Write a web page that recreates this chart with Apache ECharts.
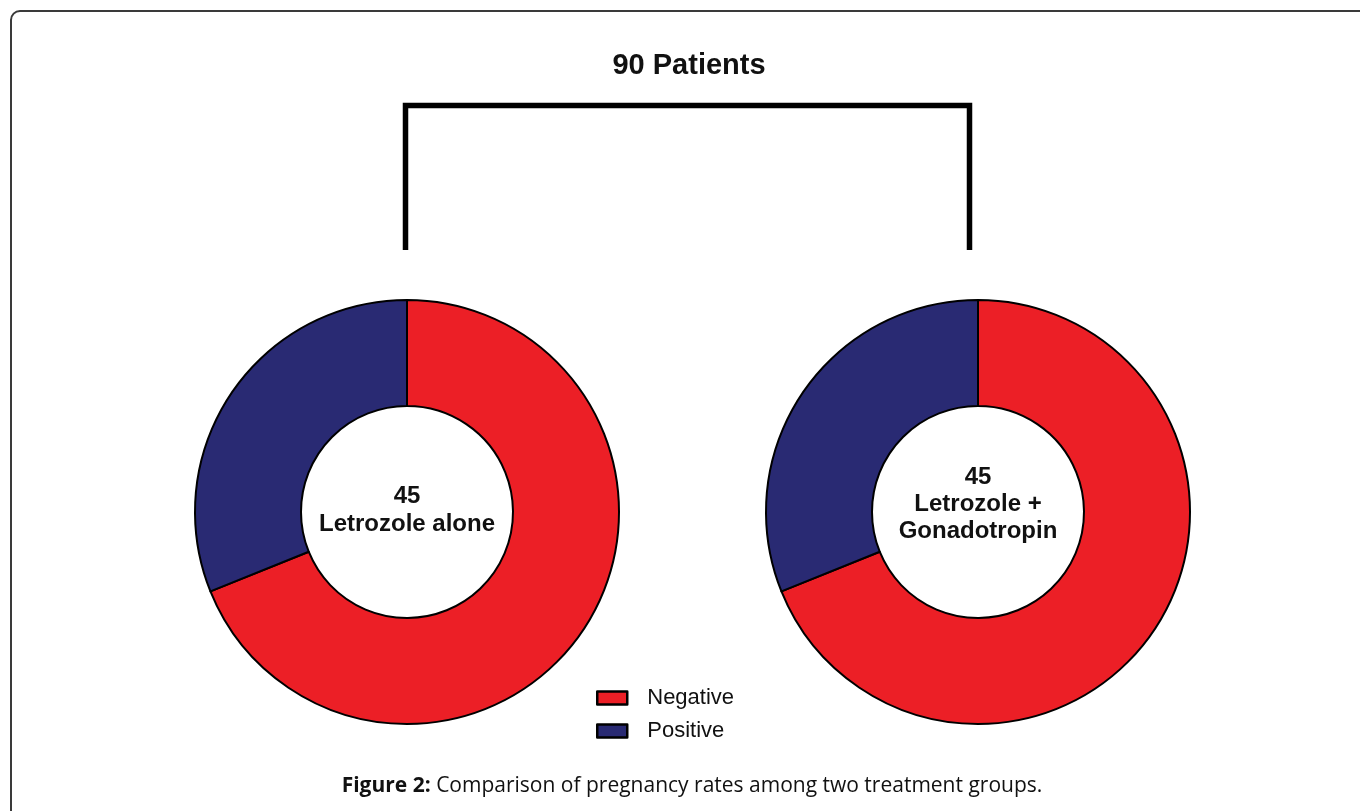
<!DOCTYPE html>
<html>
<head>
<meta charset="utf-8">
<script src="https://cdn.jsdelivr.net/npm/echarts@6/dist/echarts.min.js"></script>
<style>html,body{margin:0;padding:0;background:#fff;}#chart{width:1360px;height:811px;}</style>
</head>
<body>
<div id="chart"></div>
<script>
const categories = ['Negative', 'Positive'];
const letrozoleAlone = [31, 14];
const letrozoleGonadotropin = [31, 14];
const groupTitles = ['45\nLetrozole alone', '45\nLetrozole +\nGonadotropin'];
const totalTitle = '90 Patients';
const captionBold = 'Figure 2:';
const captionText = ' Comparison of pregnancy rates among two treatment groups.';

const colors = ['#EC1F26', '#292A73'];
const SANS = '"Liberation Sans", Arial, Helvetica, sans-serif';
const CAP = '"Open Sans", "Noto Sans", sans-serif';

function makeData(vals) {
  return categories.map((c, i) => ({ name: c, value: vals[i], itemStyle: { color: colors[i] } }));
}

const chart = echarts.init(document.getElementById('chart'));
chart.setOption({
  animation: false,
  backgroundColor: '#fff',
  title: [
    { text: totalTitle, left: 684, top: 46, textAlign: 'center',
      textStyle: { fontFamily: SANS, fontWeight: 'bold', fontSize: 29, color: '#111' } },
    { text: groupTitles[0], left: 402, top: 477, textAlign: 'center',
      textStyle: { fontFamily: SANS, fontWeight: 'bold', fontSize: 24, color: '#111', lineHeight: 28 } },
    { text: groupTitles[1], left: 973, top: 459, textAlign: 'center',
      textStyle: { fontFamily: SANS, fontWeight: 'bold', fontSize: 24, color: '#111', lineHeight: 27 } },
    { text: '{b|' + captionBold + '}{n|' + captionText + '}', left: 687, top: 771, textAlign: 'center',
      textStyle: { fontWeight: 'normal', rich: {
        b: { fontFamily: CAP, fontWeight: 'bold', fontSize: 21, color: '#111' },
        n: { fontFamily: CAP, fontWeight: 'normal', fontSize: 21, color: '#111' }
      } } }
  ],
  legend: {
    data: categories,
    orient: 'vertical',
    left: 591,
    top: 682,
    icon: 'rect',
    itemWidth: 30,
    itemHeight: 13,
    itemGap: 11,
    itemStyle: { borderColor: '#000', borderWidth: 2.5 },
    textStyle: { fontFamily: SANS, fontSize: 22, color: '#111', padding: [0, 0, 0, 15] },
    selectedMode: false
  },
  graphic: [
    { type: 'rect', shape: { x: 11, y: 11, width: 1420, height: 900, r: 9 },
      style: { fill: 'none', stroke: '#3a3a3a', lineWidth: 2 }, silent: true },
    { type: 'polyline', shape: { points: [[405.5, 250], [405.5, 105.5], [969.5, 105.5], [969.5, 250]] },
      style: { fill: 'none', stroke: '#000', lineWidth: 5.5, lineJoin: 'miter' }, silent: true }
  ],
  series: [
    { type: 'pie', name: 'Letrozole alone', center: [407, 512], radius: [106, 212], startAngle: 90, clockwise: true,
      label: { show: false }, labelLine: { show: false }, emphasis: { disabled: true },
      itemStyle: { borderColor: '#000', borderWidth: 2 }, data: makeData(letrozoleAlone) },
    { type: 'pie', name: 'Letrozole + Gonadotropin', center: [978, 512], radius: [106, 212], startAngle: 90, clockwise: true,
      label: { show: false }, labelLine: { show: false }, emphasis: { disabled: true },
      itemStyle: { borderColor: '#000', borderWidth: 2 }, data: makeData(letrozoleGonadotropin) }
  ]
});
</script>
</body>
</html>
